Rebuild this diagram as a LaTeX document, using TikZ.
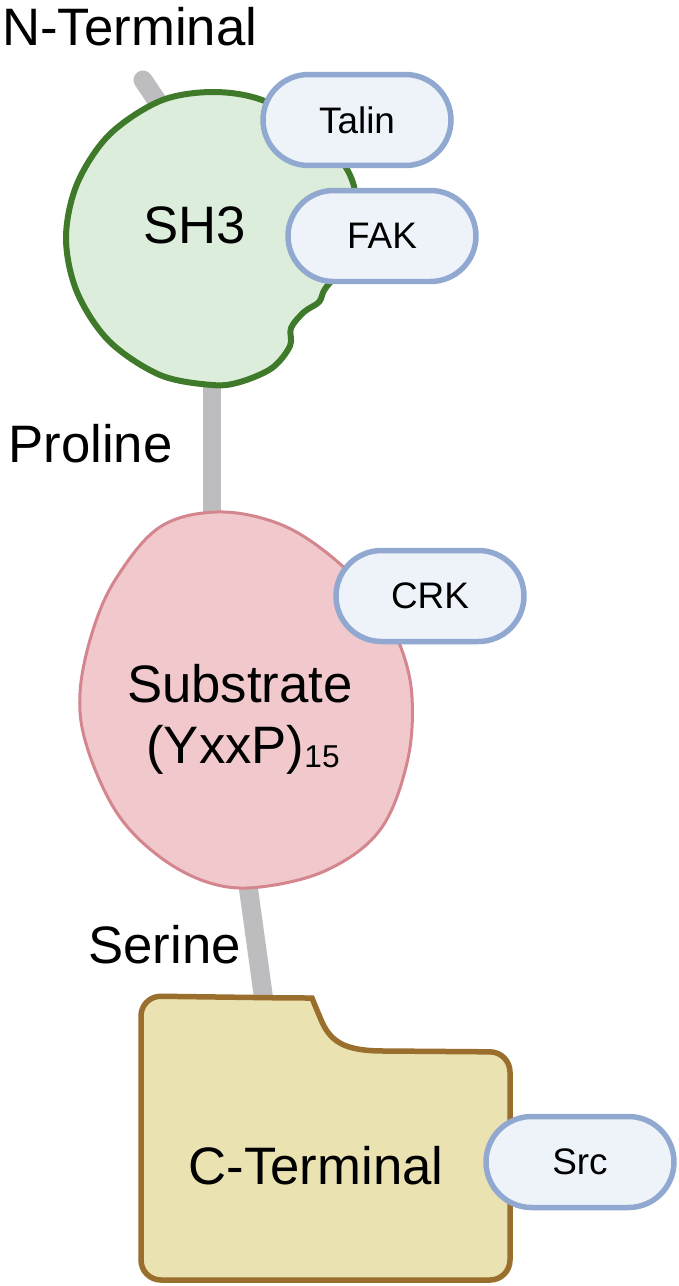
\documentclass[tikz,border=0pt]{standalone}
\usepackage{fontspec}
\setmainfont{Liberation Sans}
\usetikzlibrary{shapes.misc, positioning}

\definecolor{shfill}{HTML}{DDEDDB}
\definecolor{shline}{HTML}{3F7A2A}
\definecolor{subfill}{HTML}{F1C9CD}
\definecolor{subline}{HTML}{D4868F}
\definecolor{ctfill}{HTML}{EBE2B2}
\definecolor{ctline}{HTML}{9A6E2C}
\definecolor{pillfill}{HTML}{EDF3F9}
\definecolor{pillline}{HTML}{91A9D1}
\definecolor{linkgray}{HTML}{BDBDBF}

\begin{document}
\begin{tikzpicture}[
        x=0.02cm, y=-0.02cm,
        big/.style={font=\fontsize{30pt}{36pt}\selectfont, inner sep=0pt},
        partner/.style={rounded rectangle, draw=pillline, fill=pillfill, line width=0.11cm,
            minimum width=3.76cm, minimum height=1.82cm, inner sep=0pt,
            font=\fontsize{21pt}{25pt}\selectfont},
        linker/.style={draw=linkgray, line width=0.38cm, line cap=round}
    ]
    \useasboundingbox[fill=white] (0,0) rectangle (679,1286);

    % --- linker anchors (hidden behind the domains) ---
    \coordinate (nend) at (143,80);
    \coordinate (shin) at (190,150);
    \coordinate (shlow) at (212,300);
    \coordinate (subtop) at (212,600);
    \coordinate (sublow) at (239,820);
    \coordinate (cttop) at (268,1030);

    \draw[linker] (nend) -- (shin);
    \draw[linker, line cap=butt] (shlow) -- (subtop);
    \draw[linker, line cap=butt] (sublow) -- (cttop);

    % --- SH3 domain ---
    \draw[shline, fill=shfill, line width=0.12cm]
        plot[smooth cycle, tension=0.55] coordinates {
            (212,92) (262,100) (315,130) (350,175) (357,220) (345,262)
            (325,289) (319,302) (304,312) (291,328) (290,346) (272,368)
            (240,382) (212,385) (160,375) (109,341) (77,292) (66,238)
            (77,184) (109,135) (160,101)};

    % --- substrate domain ---
    \draw[subline, fill=subfill, line width=0.06cm]
        plot[smooth cycle, tension=0.6] coordinates {
            (217,512) (277,523) (327,553) (375,600) (400,645) (412,697)
            (407,763) (380,830) (327,870) (260,887) (210,883) (160,857)
            (117,813) (87,747) (80,693) (93,630) (117,577) (160,527)};

    % --- C-terminal domain (notched box) ---
    \draw[ctline, fill=ctfill, line width=0.11cm]
        (141,1100) [rounded corners=0.4cm] -- (141,996) -- (292,998)
        [sharp corners] .. controls (312,998) and (316,1008) .. (322,1022)
        .. controls (332,1044) and (348,1051) .. (385,1051)
        [rounded corners=0.4cm] -- (510,1052) -- (510,1280) -- (141,1280) -- cycle;

    % --- text labels ---
    \node[big, anchor=base west] (nterm) at (2,45) {N-Terminal};
    \node[big, anchor=base] (sh3) at (195,243) {SH3};
    \node[big, anchor=base west] (proline) at (8,462) {Proline};
    \node[big, anchor=base] (substrate) at (240,702) {Substrate};
    \node[big, anchor=base] (motif) at (243,763)
        {(YxxP){\fontsize{18pt}{20pt}\selectfont\raisebox{-0.08cm}{15}}};
    \node[big, anchor=base west] (serine) at (88,963) {Serine};
    \node[big, anchor=base] (cterm) at (316,1184) {C-Terminal};

    % --- binding partners ---
    \node[partner] (talin) at (357,120) {Talin};
    \node[partner] (fak) at (382,236) {FAK};
    \node[partner] (crk) at (430,596) {CRK};
    \node[partner] (src) at (580,1162) {Src};

\end{tikzpicture}
\end{document}
